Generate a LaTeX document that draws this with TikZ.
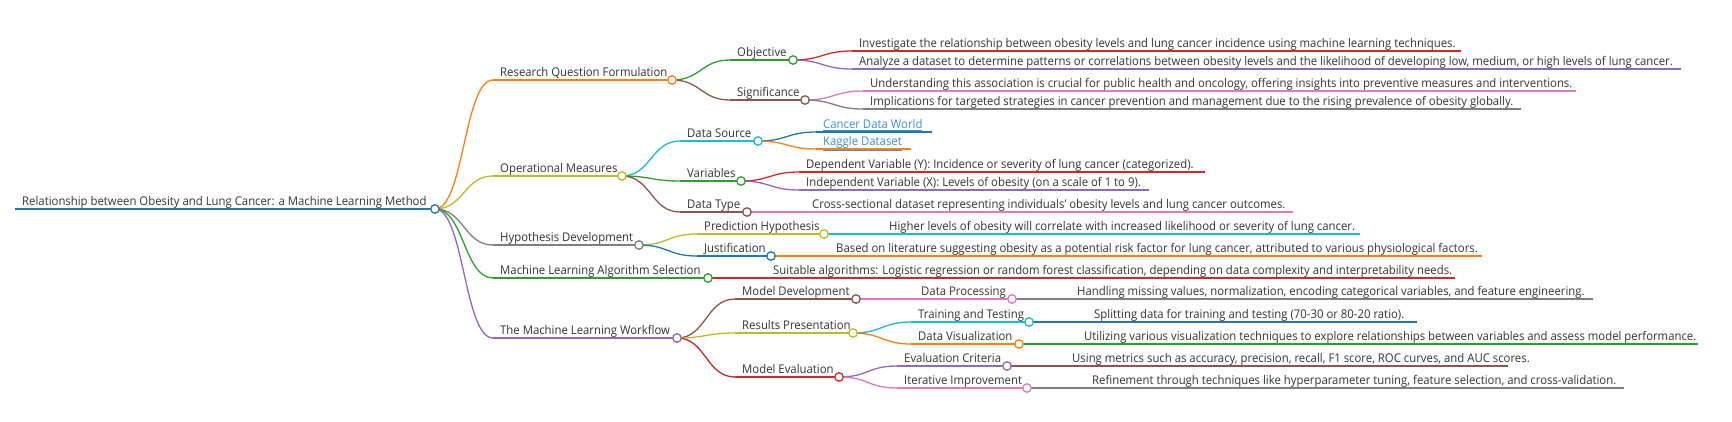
\documentclass[tikz,border=0pt]{standalone}
\usepackage{fontspec}
\setmainfont[FakeStretch=0.946]{Open Sans}
\usetikzlibrary{calc}
\definecolor{mmblue}{HTML}{1F77B4}
\definecolor{mmorange}{HTML}{FF7F0E}
\definecolor{mmgreen}{HTML}{2CA02C}
\definecolor{mmred}{HTML}{D62728}
\definecolor{mmpurple}{HTML}{9467BD}
\definecolor{mmbrown}{HTML}{8C564B}
\definecolor{mmpink}{HTML}{E377C2}
\definecolor{mmgray}{HTML}{7F7F7F}
\definecolor{mmolive}{HTML}{BCBD22}
\definecolor{mmcyan}{HTML}{17BECF}
\definecolor{mmtextc}{HTML}{333333}
\definecolor{mmlinkc}{HTML}{3C8FDB}
\tikzset{
 mmtext/.style={anchor=base west, inner sep=0pt, text=mmtextc, font=\fontsize{12}{14}\selectfont},
 mmline/.style={line width=1.3pt},
 mmlink/.style={line width=1.3pt, to path={let \p1=(\tikztostart), \p2=(\tikztotarget) in .. controls ({0.5*\x1+0.5*\x2},\y1) and ({0.5*\x1+0.5*\x2},\y2) .. (\tikztotarget)}},
 mmdot/.style={circle, fill=white, line width=1.3pt, minimum size=8.5pt, inner sep=0pt},
}
\newcommand\mmitem[6]{%
 \coordinate (#1-s) at (#2,#4);
 \coordinate (#1-e) at (#3,#4);
 \draw[mmline,draw=#5] (#1-s) -- (#1-e);
 \node[mmtext] (#1) at ($(#1-s)+(7,-3.5)$) {#6};
}
\begin{document}
\begin{tikzpicture}[x=1pt,y=-1pt]
\useasboundingbox (0,0) rectangle (1732,421);
\mmitem{root}{15}{435}{209}{mmblue}{Relationship between Obesity and Lung Cancer: a Machine Learning Method}
\mmitem{rqf}{493}{672}{80}{mmorange}{Research Question Formulation}
\mmitem{opm}{493}{622}{176}{mmolive}{Operational Measures}
\mmitem{hyp}{493}{639}{245}{mmgray}{Hypothesis Development}
\mmitem{mla}{493}{708}{278}{mmgreen}{Machine Learning Algorithm Selection}
\mmitem{wf}{493}{677}{338}{mmpurple}{The Machine Learning Workflow}
\mmitem{obj}{730}{793}{60}{mmgreen}{Objective}
\mmitem{sig}{730}{805}{100}{mmbrown}{Significance}
\mmitem{inv}{852}{1461}{51}{mmred}{Investigate the relationship between obesity levels and lung cancer incidence using machine learning techniques.}
\mmitem{ana}{852}{1681}{69}{mmpurple}{Analyze a dataset to determine patterns or correlations between obesity levels and the likelihood of developing low, medium, or high levels of lung cancer.}
\mmitem{und}{863}{1576}{91}{mmpink}{Understanding this association is crucial for public health and oncology, offering insights into preventive measures and interventions.}
\mmitem{imp}{863}{1521}{109}{mmgray}{Implications for targeted strategies in cancer prevention and management due to the rising prevalence of obesity globally.}
\mmitem{dsrc}{680}{758}{141}{mmcyan}{Data Source}
\mmitem{var}{680}{741}{181}{mmgreen}{Variables}
\mmitem{dtyp}{680}{747}{212}{mmbrown}{Data Type}
\mmitem{cdw}{816}{932}{132}{mmblue}{\textcolor{mmlinkc}{\underline{Cancer Data World}}}
\mmitem{kag}{816}{911}{149}{mmorange}{\textcolor{mmlinkc}{\underline{Kaggle Dataset}}}
\mmitem{dep}{799}{1205}{172}{mmred}{Dependent Variable (Y): Incidence or severity of lung cancer (categorized).}
\mmitem{ind}{799}{1149}{190}{mmpurple}{Independent Variable (X): Levels of obesity (on a scale of 1 to 9).}
\mmitem{cross}{805}{1293}{212}{mmpink}{Cross-sectional dataset representing individuals' obesity levels and lung cancer outcomes.}
\mmitem{pred}{697}{824}{234}{mmolive}{Prediction Hypothesis}
\mmitem{just}{697}{771}{256}{mmblue}{Justification}
\mmitem{high}{882}{1360}{234}{mmcyan}{Higher levels of obesity will correlate with increased likelihood or severity of lung cancer.}
\mmitem{based}{829}{1482}{256}{mmorange}{Based on literature suggesting obesity as a potential risk factor for lung cancer, attributed to various physiological factors.}
\mmitem{suit}{766}{1455}{278}{mmred}{Suitable algorithms: Logistic regression or random forest classification, depending on data complexity and interpretability needs.}
\mmitem{mdev}{735}{856}{299}{mmbrown}{Model Development}
\mmitem{res}{735}{853}{333}{mmolive}{Results Presentation}
\mmitem{meval}{735}{839}{377}{mmred}{Model Evaluation}
\mmitem{dproc}{914}{1012}{299}{mmpink}{Data Processing}
\mmitem{hand}{1070}{1593}{299}{mmgray}{Handling missing values, normalization, encoding categorical variables, and feature engineering.}
\mmitem{train}{911}{1029}{322}{mmcyan}{Training and Testing}
\mmitem{split}{1087}{1417}{322}{mmblue}{Splitting data for training and testing (70-30 or 80-20 ratio).}
\mmitem{dvis}{911}{1019}{344}{mmorange}{Data Visualization}
\mmitem{util}{1077}{1698}{344}{mmgreen}{Utilizing various visualization techniques to explore relationships between variables and assess model performance.}
\mmitem{ecrit}{897}{1007}{366}{mmpurple}{Evaluation Criteria}
\mmitem{using}{1065}{1508}{366}{mmbrown}{Using metrics such as accuracy, precision, recall, F1 score, ROC curves, and AUC scores.}
\mmitem{iter}{897}{1027}{388}{mmpink}{Iterative Improvement}
\mmitem{refin}{1085}{1624}{388}{mmgray}{Refinement through techniques like hyperparameter tuning, feature selection, and cross-validation.}
% links
\draw[mmlink,draw=mmorange] (root-e) to (rqf-s);
\draw[mmlink,draw=mmolive] (root-e) to (opm-s);
\draw[mmlink,draw=mmgray] (root-e) to (hyp-s);
\draw[mmlink,draw=mmgreen] (root-e) to (mla-s);
\draw[mmlink,draw=mmpurple] (root-e) to (wf-s);
\draw[mmlink,draw=mmgreen] (rqf-e) to (obj-s);
\draw[mmlink,draw=mmbrown] (rqf-e) to (sig-s);
\draw[mmlink,draw=mmred] (obj-e) to (inv-s);
\draw[mmlink,draw=mmpurple] (obj-e) to (ana-s);
\draw[mmlink,draw=mmpink] (sig-e) to (und-s);
\draw[mmlink,draw=mmgray] (sig-e) to (imp-s);
\draw[mmlink,draw=mmcyan] (opm-e) to (dsrc-s);
\draw[mmlink,draw=mmgreen] (opm-e) to (var-s);
\draw[mmlink,draw=mmbrown] (opm-e) to (dtyp-s);
\draw[mmlink,draw=mmblue] (dsrc-e) to (cdw-s);
\draw[mmlink,draw=mmorange] (dsrc-e) to (kag-s);
\draw[mmlink,draw=mmred] (var-e) to (dep-s);
\draw[mmlink,draw=mmpurple] (var-e) to (ind-s);
\draw[mmlink,draw=mmpink] (dtyp-e) to (cross-s);
\draw[mmlink,draw=mmolive] (hyp-e) to (pred-s);
\draw[mmlink,draw=mmblue] (hyp-e) to (just-s);
\draw[mmlink,draw=mmcyan] (pred-e) to (high-s);
\draw[mmlink,draw=mmorange] (just-e) to (based-s);
\draw[mmlink,draw=mmred] (mla-e) to (suit-s);
\draw[mmlink,draw=mmbrown] (wf-e) to (mdev-s);
\draw[mmlink,draw=mmolive] (wf-e) to (res-s);
\draw[mmlink,draw=mmred] (wf-e) to (meval-s);
\draw[mmlink,draw=mmpink] (mdev-e) to (dproc-s);
\draw[mmlink,draw=mmgray] (dproc-e) to (hand-s);
\draw[mmlink,draw=mmcyan] (res-e) to (train-s);
\draw[mmlink,draw=mmorange] (res-e) to (dvis-s);
\draw[mmlink,draw=mmblue] (train-e) to (split-s);
\draw[mmlink,draw=mmgreen] (dvis-e) to (util-s);
\draw[mmlink,draw=mmpurple] (meval-e) to (ecrit-s);
\draw[mmlink,draw=mmpink] (meval-e) to (iter-s);
\draw[mmlink,draw=mmbrown] (ecrit-e) to (using-s);
\draw[mmlink,draw=mmgray] (iter-e) to (refin-s);
% circles
\node[mmdot,draw=mmblue] (root-c) at (root-e) {};
\node[mmdot,draw=mmorange] (rqf-c) at (rqf-e) {};
\node[mmdot,draw=mmolive] (opm-c) at (opm-e) {};
\node[mmdot,draw=mmgray] (hyp-c) at (hyp-e) {};
\node[mmdot,draw=mmgreen] (mla-c) at (mla-e) {};
\node[mmdot,draw=mmpurple] (wf-c) at (wf-e) {};
\node[mmdot,draw=mmgreen] (obj-c) at (obj-e) {};
\node[mmdot,draw=mmbrown] (sig-c) at (sig-e) {};
\node[mmdot,draw=mmcyan] (dsrc-c) at (dsrc-e) {};
\node[mmdot,draw=mmgreen] (var-c) at (var-e) {};
\node[mmdot,draw=mmbrown] (dtyp-c) at (dtyp-e) {};
\node[mmdot,draw=mmolive] (pred-c) at (pred-e) {};
\node[mmdot,draw=mmblue] (just-c) at (just-e) {};
\node[mmdot,draw=mmbrown] (mdev-c) at (mdev-e) {};
\node[mmdot,draw=mmolive] (res-c) at (res-e) {};
\node[mmdot,draw=mmred] (meval-c) at (meval-e) {};
\node[mmdot,draw=mmpink] (dproc-c) at (dproc-e) {};
\node[mmdot,draw=mmcyan] (train-c) at (train-e) {};
\node[mmdot,draw=mmorange] (dvis-c) at (dvis-e) {};
\node[mmdot,draw=mmpurple] (ecrit-c) at (ecrit-e) {};
\node[mmdot,draw=mmpink] (iter-c) at (iter-e) {};
\end{tikzpicture}
\end{document}
